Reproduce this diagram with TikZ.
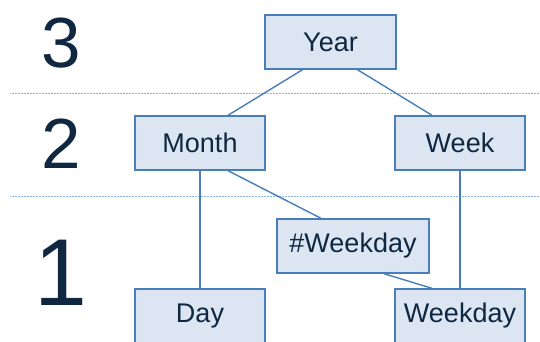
\documentclass[tikz,border=0pt]{standalone}
\usepackage{fontspec}
\setmainfont{Liberation Sans}
\definecolor{boxfill}{HTML}{DCE6F2}
\definecolor{boxline}{HTML}{4A7EBB}
\definecolor{textnavy}{HTML}{0F2740}
\definecolor{sepblue}{HTML}{8DB3E2}

\begin{document}
\begin{tikzpicture}[
        x=1pt, y=-1pt,
        level/.style = {anchor=base, text=textnavy, inner sep=0pt},
        box/.style = {draw=boxline, fill=boxfill, rectangle, minimum width=130pt, minimum height=54pt, inner sep=0pt, text=textnavy, font=\fontsize{27}{30}\selectfont, line width=1.4pt},
        link/.style = {draw=boxline, line width=1.4pt},
        sep/.style = {draw=sepblue, line width=1pt, dash pattern=on 0.9pt off 0.6pt}
    ]
        \useasboundingbox (0,0) rectangle (540,341);
        \clip (0,0) rectangle (540,341);

        % Levels
        \node (l3) [level, font=\fontsize{71}{71}\selectfont] at (61,67) {3};
        \node (l2) [level, font=\fontsize{71}{71}\selectfont] at (61,168) {2};
        \node (l1) [level, font=\fontsize{95}{95}\selectfont] at (61,305) {1};

        % Separators
        \coordinate (s3a) at (10,93);
        \coordinate (s3b) at (540,93);
        \coordinate (s2a) at (10,196);
        \coordinate (s2b) at (540,196);
        \draw [sep] (s3a) -- (s3b);
        \draw [sep] (s2a) -- (s2b);

        % Boxes
        \node (year) [box, minimum width=131pt] at (330.5,42) {Year};
        \node (month) [box] at (200,143) {Month};
        \node (week) [box] at (460,143) {Week};
        \node (nweekday) [box, minimum width=152pt] at (353,246) {\#Weekday};
        \node (day) [box] at (200,316) {Day};
        \node (weekday) [box] at (460,316) {Weekday};

        % Links
        \draw [link] ([xshift=-28pt]year.south) -- ([xshift=28pt]month.north);
        \draw [link] ([xshift=27pt]year.south) -- ([xshift=-28pt]week.north);
        \draw [link] (month.south) -- (day.north);
        \draw [link] ([xshift=28pt]month.south) -- ([xshift=-32pt]nweekday.north);
        \draw [link] (week.south) -- (weekday.north);
        \draw [link] ([xshift=31pt]nweekday.south) -- ([xshift=-28pt]weekday.north);

    \end{tikzpicture}
\end{document}
